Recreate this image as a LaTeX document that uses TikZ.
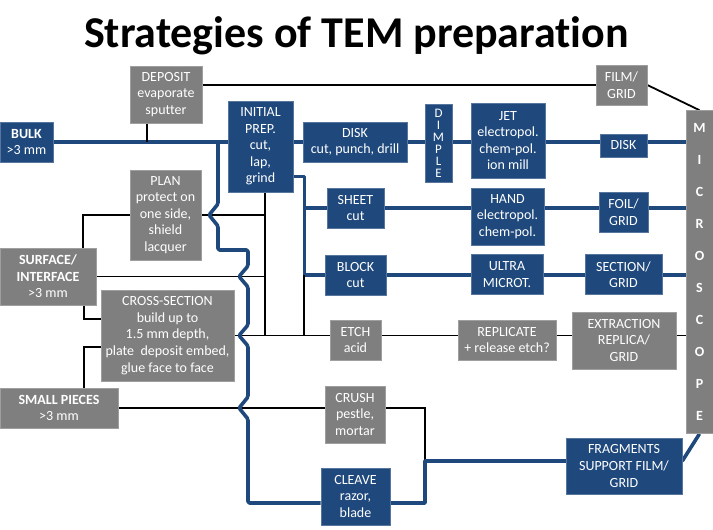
\documentclass[tikz,border=0pt]{standalone}
\usepackage{fontspec}
\setmainfont{Carlito}[Ligatures=NoCommon]
\usetikzlibrary{backgrounds}
\definecolor{tembl}{RGB}{31,73,125}
\definecolor{temgr}{RGB}{127,127,127}
\tikzset{
  box/.style={text=white,align=center,inner sep=0pt,line width=0.6pt,
    font=\fontsize{14}{16.6}\selectfont},
  blubox/.style={box,fill=tembl,draw=tembl!75!white},
  grybox/.style={box,fill=temgr,draw=temgr!75!white},
  boxsz/.style 2 args={minimum width=#1pt,minimum height=#2pt},
  bluline/.style={draw=tembl,line width=3.6pt,line join=round},
  blkline/.style={draw=black,line width=1.8pt},
}
\begin{document}
\begin{tikzpicture}[x=1pt,y=-1pt]
  \useasboundingbox (0,0) rectangle (713,530);
  \node[font=\bfseries\fontsize{44}{50}\selectfont,anchor=base] (title) at (356.5,47)
    {Strategies of TEM preparation};

  % starting materials
  \node[blubox,boxsz={53}{40}] (bulk) at (26.5,142) {\textbf{BULK}\\>3 mm};
  \node[grybox,boxsz={96}{57}] (surface) at (48,276.5)
    {\textbf{SURFACE/}\\\textbf{INTERFACE}\\>3 mm};
  \node[grybox,boxsz={118}{40}] (small) at (59,408) {\textbf{SMALL PIECES}\\>3 mm};

  % first steps
  \node[grybox,boxsz={72}{57}] (deposit) at (166,94.5) {DEPOSIT\\evaporate\\sputter};
  \node[grybox,boxsz={71}{90}] (plan) at (165.5,215)
    {PLAN\\protect on\\one side,\\shield\\lacquer};
  \node[grybox,boxsz={133}{91}] (cross) at (167.5,335.5)
    {CROSS-SECTION\\build up to\\1.5 mm depth,\\plate\ \ deposit embed,\\glue face to face};
  \node[blubox,boxsz={65}{91}] (initial) at (260.5,146.5)
    {INITIAL\\PREP.\\cut,\\lap,\\grind};

  % cutting
  \node[blubox,boxsz={104}{40}] (diskcut) at (355,142) {DISK\\cut, punch, drill};
  \node[blubox,boxsz={57}{40}] (sheet) at (355.5,208) {SHEET\\cut};
  \node[blubox,boxsz={61}{40}] (block) at (355.5,275) {BLOCK\\cut};
  \node[grybox,boxsz={51}{40}] (etch) at (355.5,340) {ETCH\\acid};
  \node[grybox,boxsz={60}{57}] (crush) at (355,414.5) {CRUSH\\pestle,\\mortar};
  \node[blubox,boxsz={69}{57}] (cleave) at (355.5,496.5) {CLEAVE\\razor,\\blade};

  % thinning
  \node[blubox,boxsz={27}{78},font=\fontsize{13}{12}\selectfont] (dimple) at (438.5,143)
    {D\\I\\M\\P\\L\\E};
  \node[blubox,boxsz={74}{75}] (jet) at (508,140.5) {JET\\electropol.\\chem-pol.\\ion mill};
  \node[blubox,boxsz={73}{57}] (hand) at (507.5,216.5) {HAND\\electropol.\\chem-pol.};
  \node[blubox,boxsz={72}{40}] (ultra) at (507,274.5) {ULTRA\\MICROT.};
  \node[grybox,boxsz={98}{40}] (replicate) at (507,340) {REPLICATE\\+ release etch?};

  % specimens
  \node[grybox,boxsz={51}{40}] (filmgrid) at (621.5,85) {FILM/\\GRID};
  \node[blubox,boxsz={47}{23}] (disk) at (623.5,145.5) {DISK};
  \node[blubox,boxsz={49}{40}] (foil) at (623.5,212) {FOIL/\\GRID};
  \node[blubox,boxsz={77}{40}] (section) at (623.5,274.5) {SECTION/\\GRID};
  \node[grybox,boxsz={104}{57}] (extraction) at (624,340.5) {EXTRACTION\\REPLICA/\\GRID};
  \node[blubox,boxsz={116}{56}] (frag) at (624,466) {FRAGMENTS\\SUPPORT FILM/\\GRID};
  \node[grybox,boxsz={27}{323},font=\bfseries\fontsize{14}{32}\selectfont] (micro) at (699.5,272)
    {M\\I\\C\\R\\O\\S\\C\\O\\P\\E};

  \coordinate (bend) at ([xshift=11pt,yshift=-30pt]initial.east);
  \coordinate (spine) at ([xshift=4.5pt]initial.south);
  \coordinate (merge) at (425,461);

  \begin{scope}[on background layer]
    % rows to the microscope
    \draw[bluline] (bulk.east) -- (bulk.east -| micro.west);
    \draw[bluline] (sheet.east) -- (sheet.east -| micro.west);
    \draw[bluline] (block.east) -- (block.east -| micro.west);
    \draw[blkline] (cross.east) -- (cross.east -| micro.west);
    \draw[blkline] ([xshift=-19pt]deposit.south) -- ([xshift=-19pt]deposit.south |- bulk.east);
    \draw[blkline] (deposit.east |- filmgrid.west) -- (filmgrid.west);
    \draw[blkline] (filmgrid.east) -- (micro.north);

    % initial prep branches
    \draw[bluline] (bend -| initial.east) -- (bend) |- (block.west);
    \draw[bluline] (bend |- sheet.west) -- (sheet.west);
    \draw[blkline] (spine) -- (spine |- cross.east);
    \draw[blkline] (bend |- block.west) -- (bend |- cross.east);

    % surface and small pieces
    \draw[blkline] ([xshift=35pt]surface.north) |- (plan.west);
    \draw[blkline] (plan.east) -- (plan.east -| spine);
    \draw[blkline] (surface.east) -- (surface.east -| spine);
    \draw[blkline] ([xshift=36pt]surface.south) |- ([yshift=16.5pt]cross.west);
    \draw[blkline] ([yshift=-11.5pt]cross.west) -| ([xshift=25pt]small.north);
    \draw[blkline] (small.east) -- (small.east -| crush.west);
    \draw[blkline] (crush.east |- small.east) -| (merge);
    \draw[bluline] ([yshift=-6.5pt]cleave.east) -| (merge) -- (merge -| frag.west);
    \draw[bluline] (frag.east |- merge) -- (micro.south);

    % bulk down to cleave, hopping over the black lines
    \draw[bluline,rounded corners=1.5pt] (218,142) -- (218,204) -- (209,215) -- (218,226)
      -- (218,250) -- (248,250) -- (248,266) -- (239,276.5) -- (248,287)
      -- (248,325) -- (239,335.5) -- (248,346) -- (248,397) -- (239,408) -- (248,419)
      |- ([yshift=-6.5pt]cleave.west);
  \end{scope}
\end{tikzpicture}
\end{document}
